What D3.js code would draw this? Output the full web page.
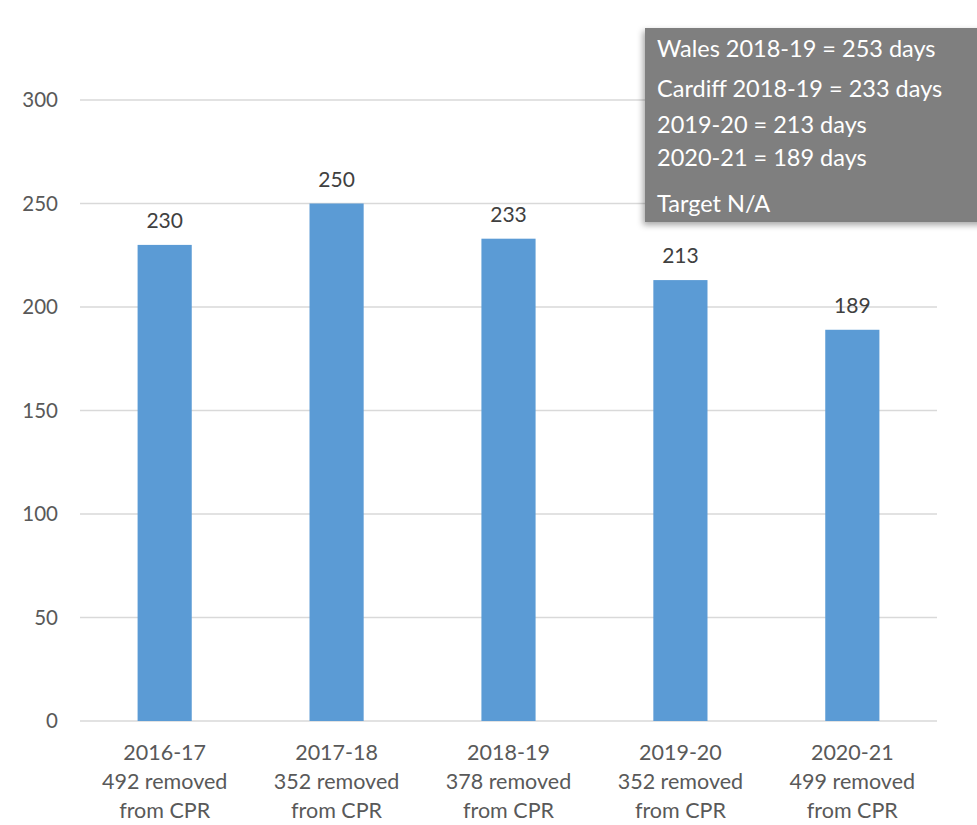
<!DOCTYPE html>
<html>
<head>
<meta charset="utf-8">
<script src="https://cdnjs.cloudflare.com/ajax/libs/d3/7.8.5/d3.min.js"></script>
<style>
  body { margin: 0; background: #fff; }
  svg { display: block; font-family: Lato, "Open Sans", sans-serif; }
</style>
</head>
<body>
<svg id="chart" width="977" height="825"></svg>
<script>
// data
const years = ["2016-17", "2017-18", "2018-19", "2019-20", "2020-21"];
const removed = [492, 352, 378, 352, 499];
const days = [230, 250, 233, 213, 189];
const yTicks = [0, 50, 100, 150, 200, 250, 300];
const noteLines = ["Wales 2018-19 = 253 days", "Cardiff 2018-19 = 233 days", "2019-20 = 213 days", "2020-21 = 189 days", "Target N/A"];

const svg = d3.select("#chart");

const margin = {left: 80, right: 40, top: 100, bottom: 104};
const width = 977 - margin.left - margin.right;
const height = 825 - margin.top - margin.bottom;

const x = d3.scaleBand().domain(years).range([margin.left, margin.left + width]).paddingInner(0.685).paddingOuter(0.335);
const y = d3.scaleLinear().domain([0, 300]).range([margin.top + height, margin.top]);

// gridlines
svg.append("g")
    .selectAll("line")
    .data(yTicks)
    .join("line")
    .attr("x1", margin.left)
    .attr("x2", margin.left + width)
    .attr("y1", d => y(d))
    .attr("y2", d => y(d))
    .style("stroke", "#d9d9d9")
    .style("stroke-width", 1.3);

// y tick labels
svg.append("g")
    .selectAll("text")
    .data(yTicks)
    .join("text")
    .attr("x", 58)
    .attr("y", d => y(d))
    .attr("dy", "0.35em")
    .attr("text-anchor", "end")
    .style("font-size", "20.5px")
    .style("fill", "#595959")
    .text(d => d);

// bars
svg.append("g")
    .selectAll("rect")
    .data(days)
    .join("rect")
    .attr("x", (d, i) => x(years[i]))
    .attr("width", x.bandwidth())
    .attr("y", d => y(d))
    .attr("height", d => y(0) - y(d))
    .style("fill", "#5b9bd5");

// value labels
svg.append("g")
    .selectAll("text")
    .data(days)
    .join("text")
    .attr("x", (d, i) => x(years[i]) + x.bandwidth() / 2)
    .attr("y", d => y(d) - 17)
    .attr("text-anchor", "middle")
    .style("font-size", "21px")
    .style("fill", "#404040")
    .text(d => d);

// category labels (3 lines each)
years.forEach((yr, i) => {
    let t = svg.append("text")
        .attr("text-anchor", "middle")
        .style("font-size", "21.5px")
        .style("fill", "#595959");
    let cx = x(yr) + x.bandwidth() / 2;
    [yr, `${removed[i]} removed`, "from CPR"].forEach((s, j) => {
        t.append("tspan")
            .attr("x", cx)
            .attr("y", 760 + j * 29)
            .text(s);
    });
});

// callout box
const defs = svg.append("defs");
const f = defs.append("filter").attr("id", "shadow").attr("x", "-10%").attr("y", "-10%").attr("width", "130%").attr("height", "130%");
f.append("feDropShadow").attr("dx", -2).attr("dy", 3).attr("stdDeviation", 3).attr("flood-color", "#000").attr("flood-opacity", 0.35);

svg.append("rect")
    .attr("x", 645)
    .attr("y", 28)
    .attr("width", 360)
    .attr("height", 194)
    .style("fill", "#7f7f7f")
    .attr("filter", "url(#shadow)");

const noteY = [57, 97, 133, 166, 212];
svg.append("g")
    .selectAll("text")
    .data(noteLines)
    .join("text")
    .attr("x", 657)
    .attr("y", (d, i) => noteY[i])
    .style("font-size", "23.5px")
    .style("fill", "#ffffff")
    .text(d => d);
</script>
</body>
</html>
